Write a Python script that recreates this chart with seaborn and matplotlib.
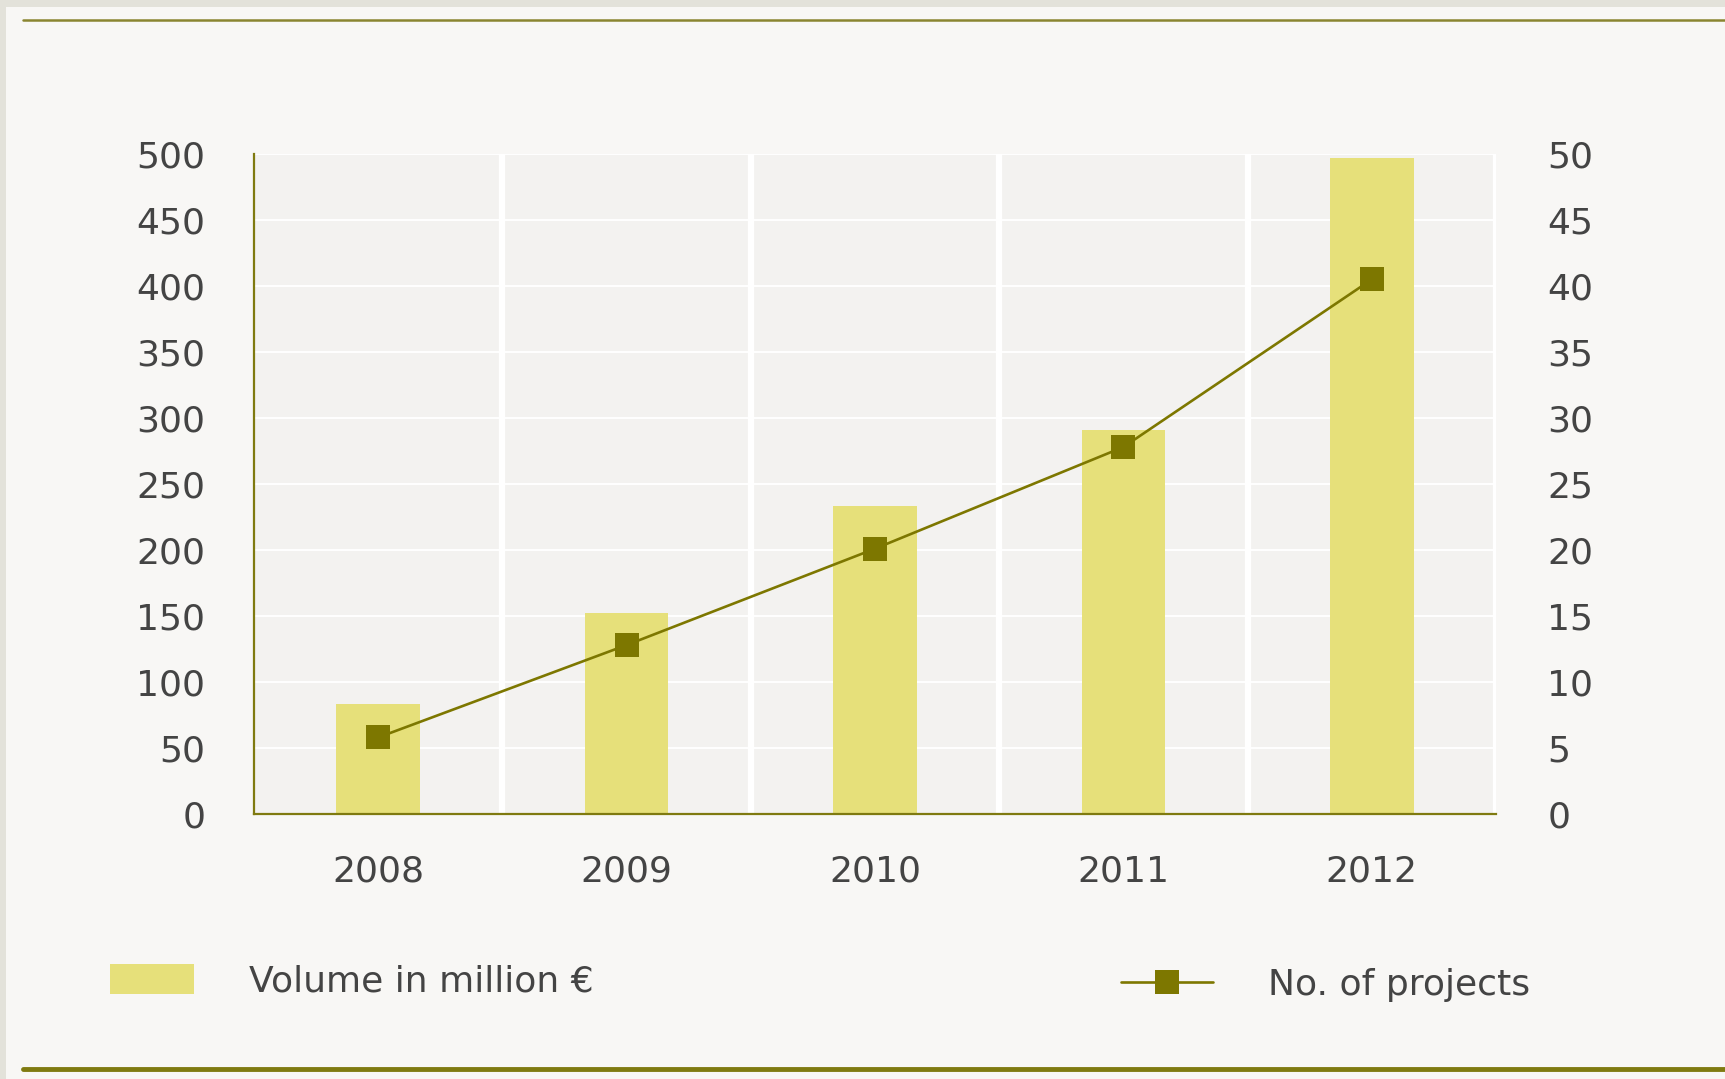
import matplotlib
matplotlib.use("Agg")
import matplotlib.pyplot as plt
import seaborn as sns
from matplotlib.patches import Rectangle, Patch
from matplotlib.lines import Line2D
from matplotlib.ticker import FixedLocator

years = ["2008", "2009", "2010", "2011", "2012"]
volume = [83, 152, 233, 291, 497]
projects = [5.8, 12.8, 20.1, 27.8, 40.5]
left_ticks = [0, 50, 100, 150, 200, 250, 300, 350, 400, 450, 500]
right_ticks = [0, 5, 10, 15, 20, 25, 30, 35, 40, 45, 50]
bar_label = "Volume in million €"
line_label = "No. of projects"

W, H = 1725, 1079
BAR = "#e6e07a"
OLIVE = "#7d7700"
SPINE = "#7f7a10"
TXT = "#444444"
FS = 26

sns.set_style("white")
plt.rcParams["font.family"] = ["DejaVu Sans"]

fig = plt.figure(figsize=(W / 100, H / 100), dpi=100)
fig.patch.set_facecolor("#e3e2da")
fig.patches.append(Rectangle((6 / W, 0), 1 - 6 / W, (H - 7) / H, transform=fig.transFigure,
                             facecolor="#f8f7f5", edgecolor="none", zorder=-10))
fig.lines.append(Line2D([23 / W, 1], [1 - 20 / H] * 2, transform=fig.transFigure,
                        color="#8a8530", lw=1.8, zorder=-5))
fig.lines.append(Line2D([23 / W, 1], [1 - 1069 / H] * 2, transform=fig.transFigure,
                        color=SPINE, lw=3.5, zorder=-5))

ax = fig.add_axes([254 / W, 1 - 814 / H, (1496 - 254) / W, (814 - 154) / H])
ax.set_facecolor("#f3f2f0")
sns.barplot(x=years, y=volume, ax=ax, color=BAR, saturation=1, width=0.336,
            linewidth=0, edgecolor="none", zorder=2)

ax2 = ax.twinx()
sns.pointplot(x=years, y=projects, ax=ax2, color=OLIVE, markers="s", markersize=17,
              linewidth=1.9)
for ln in ax2.lines:
    ln.set_markeredgewidth(0)

for a in (ax, ax2):
    a.set_xlim(-0.5, 4.5)
    a.set_xlabel("")
    a.set_ylabel("")
ax.set_ylim(0, 500)
ax2.set_ylim(0, 50)
ax.yaxis.set_major_locator(FixedLocator(left_ticks))
ax2.yaxis.set_major_locator(FixedLocator(right_ticks))

ax.set_axisbelow(True)
ax.yaxis.grid(True, color="white", lw=1.4)
ax.xaxis.set_minor_locator(FixedLocator([0.5, 1.5, 2.5, 3.5, 4.5]))
ax.xaxis.grid(True, which="minor", color="white", lw=4.5)
ax.xaxis.grid(False, which="major")
ax2.grid(False)

for s in ["top", "right"]:
    ax.spines[s].set_visible(False)
for s in ["left", "bottom"]:
    ax.spines[s].set_color(SPINE)
    ax.spines[s].set_linewidth(1.6)
    ax.spines[s].set_zorder(5)
for s in ax2.spines.values():
    s.set_visible(False)
ax2.patch.set_visible(False)

ax.tick_params(axis="y", length=0, pad=35, labelsize=FS, labelcolor=TXT)
ax.tick_params(axis="x", which="both", length=0, pad=29, labelsize=FS, labelcolor=TXT)
ax2.tick_params(axis="y", length=0, pad=37, labelsize=FS, labelcolor=TXT)

h1 = Patch(facecolor=BAR, edgecolor="none")
h2 = Line2D([], [], color=OLIVE, lw=1.9, marker="s", markersize=17, markeredgewidth=0)
em = FS * 100 / 72
fig.legend(handles=[h1], labels=[bar_label], loc="center left",
           bbox_to_anchor=(110 / W, 1 - 981 / H), frameon=False, fontsize=FS,
           labelcolor=TXT, handlelength=84 / em, handleheight=33 / em,
           handletextpad=55 / em, borderpad=0, borderaxespad=0)
fig.legend(handles=[h2], labels=[line_label], loc="center left",
           bbox_to_anchor=(1121 / W, 1 - 985 / H), frameon=False, fontsize=FS,
           labelcolor=TXT, handlelength=92 / em, handletextpad=55 / em,
           borderpad=0, borderaxespad=0)

fig.savefig("out.png", dpi=100, facecolor=fig.get_facecolor())
